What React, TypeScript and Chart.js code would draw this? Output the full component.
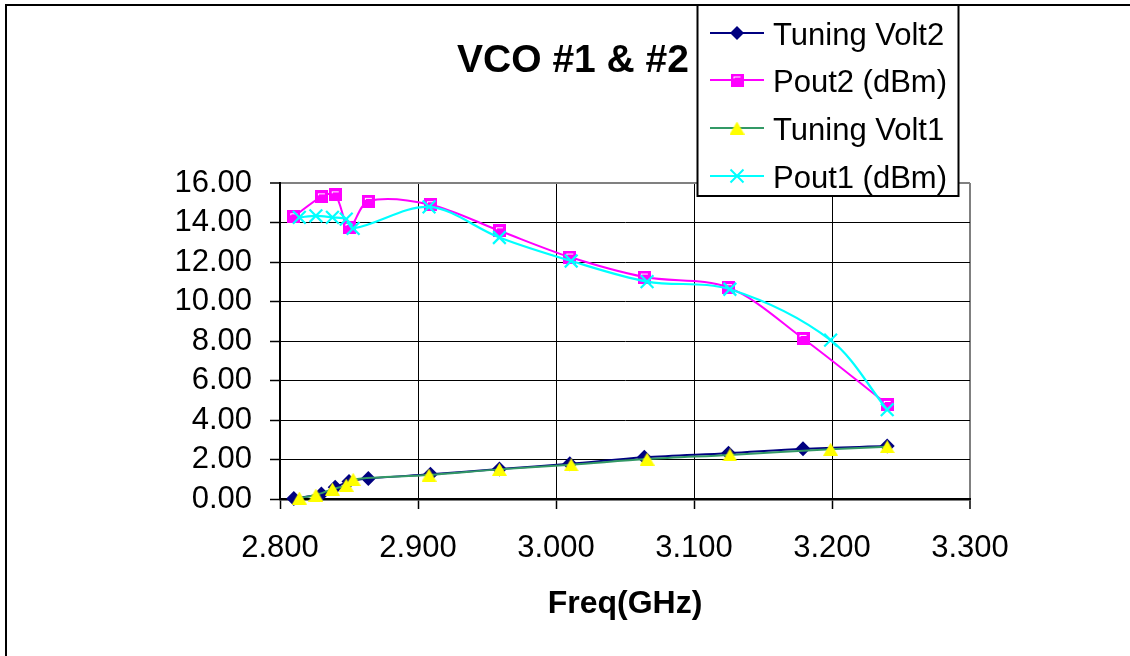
import React, { useEffect, useRef } from 'react';
import { Chart, registerables } from 'chart.js';

Chart.register(...registerables);

// ---------- data ----------
const chartTitle = 'VCO #1 & #2';
const xAxisTitle = 'Freq(GHz)';
const seriesLabels = ['Tuning Volt2', 'Pout2 (dBm)', 'Tuning Volt1', 'Pout1 (dBm)'];

const freq2 = [2.810, 2.830, 2.840, 2.850, 2.864, 2.909, 2.959, 3.010, 3.064, 3.125, 3.179, 3.240];
const tuningVolt2 = [0.03, 0.25, 0.59, 0.88, 1.04, 1.25, 1.52, 1.78, 2.11, 2.32, 2.54, 2.68];
const pout2 = [14.29, 15.30, 15.40, 13.75, 15.07, 14.90, 13.58, 12.25, 11.24, 10.70, 8.13, 4.79];

const freq1 = [2.814, 2.826, 2.838, 2.848, 2.853, 2.908, 2.959, 3.011, 3.066, 3.126, 3.199, 3.240];
const tuningVolt1 = [0.05, 0.20, 0.50, 0.70, 1.00, 1.21, 1.50, 1.73, 2.02, 2.23, 2.52, 2.65];
const pout1 = [14.26, 14.34, 14.26, 14.17, 13.70, 14.79, 13.24, 12.05, 11.01, 10.62, 8.04, 4.52];

const xTickValues = [2.8, 2.9, 3.0, 3.1, 3.2, 3.3];
const yTickValues = [0, 2, 4, 6, 8, 10, 12, 14, 16];

// ---------- styles ----------
const FONT = '"Liberation Sans", Arial, Helvetica, sans-serif';
const NAVY = '#000080';
const MAGENTA = '#FF00FF';
const SEAGREEN = '#339966';
const YELLOW = '#FFFF00';
const CYAN = '#00FFFF';
const GREY = '#808080';

function makeSquare(): HTMLCanvasElement {
  const c = document.createElement('canvas');
  c.width = 13;
  c.height = 13;
  const g = c.getContext('2d')!;
  g.fillStyle = MAGENTA;
  g.fillRect(0, 0, 13, 13);
  g.fillStyle = '#FFFFFF';
  g.fillRect(3, 3, 7, 1);
  g.fillRect(3, 3, 1, 2);
  return c;
}

function makeTriangle(): HTMLCanvasElement {
  const c = document.createElement('canvas');
  c.width = 15;
  c.height = 13;
  const g = c.getContext('2d')!;
  g.fillStyle = YELLOW;
  g.beginPath();
  g.moveTo(7.5, 0);
  g.lineTo(15, 13);
  g.lineTo(0, 13);
  g.closePath();
  g.fill();
  return c;
}

export default function App() {
  const ref = useRef<HTMLCanvasElement>(null);

  useEffect(() => {
    if (!ref.current) return;
    const square = makeSquare();
    const tri = makeTriangle();
    const toPts = (xs: number[], ys: number[]) => xs.map((x, i) => ({ x, y: ys[i] }));

    const decor = {
      id: 'decor',
      beforeDraw(chart: any) {
        const ctx = chart.ctx as CanvasRenderingContext2D;
        ctx.save();
        ctx.fillStyle = '#FFFFFF';
        ctx.fillRect(0, 0, chart.width, chart.height);
        ctx.strokeStyle = '#000';
        ctx.lineWidth = 2;
        ctx.strokeRect(6, 5, 1400, 900);
        ctx.restore();
      },
      afterDraw(chart: any) {
        const ctx = chart.ctx as CanvasRenderingContext2D;
        const area = chart.chartArea;
        ctx.save();
        // title
        ctx.fillStyle = '#000';
        ctx.textAlign = 'center';
        ctx.textBaseline = 'alphabetic';
        ctx.font = `bold 39px ${FONT}`;
        ctx.fillText(chartTitle, 573, 72);
        // x axis title
        ctx.font = `bold 32px ${FONT}`;
        ctx.fillText(xAxisTitle, (area.left + area.right) / 2, 613);

        // legend
        const lx = 697, ly = 5, lw = 261, lh = 191;
        ctx.fillStyle = '#FFFFFF';
        ctx.fillRect(lx, ly, lw, lh);
        ctx.strokeStyle = '#000';
        ctx.lineWidth = 2;
        ctx.strokeRect(lx + 0.5, ly, lw, lh);
        const rows = [33, 80, 128, 176];
        const colors = [NAVY, MAGENTA, SEAGREEN, CYAN];
        rows.forEach((y, i) => {
          ctx.strokeStyle = colors[i];
          ctx.lineWidth = 2;
          ctx.beginPath();
          ctx.moveTo(710, y);
          ctx.lineTo(764, y);
          ctx.stroke();
          const mx = 737;
          if (i === 0) {
            ctx.fillStyle = NAVY;
            ctx.beginPath();
            ctx.moveTo(mx, y - 7);
            ctx.lineTo(mx + 7, y);
            ctx.lineTo(mx, y + 7);
            ctx.lineTo(mx - 7, y);
            ctx.closePath();
            ctx.fill();
          } else if (i === 1) {
            ctx.drawImage(square, mx - 6.5, y - 6.5);
          } else if (i === 2) {
            ctx.drawImage(tri, mx - 7.5, y - 6.5);
          } else {
            ctx.strokeStyle = CYAN;
            ctx.lineWidth = 2;
            ctx.beginPath();
            ctx.moveTo(mx - 6.5, y - 6.5);
            ctx.lineTo(mx + 6.5, y + 6.5);
            ctx.moveTo(mx + 6.5, y - 6.5);
            ctx.lineTo(mx - 6.5, y + 6.5);
            ctx.stroke();
          }
          ctx.fillStyle = '#000';
          ctx.textAlign = 'left';
          ctx.textBaseline = 'alphabetic';
          ctx.font = `31px ${FONT}`;
          ctx.fillText(seriesLabels[i], 773, y + 11.5);
        });
        ctx.restore();
      },
    };

    const chart = new Chart(ref.current, {
      type: 'line',
      data: {
        datasets: [
          {
            label: seriesLabels[0],
            data: toPts(freq2, tuningVolt2),
            borderColor: NAVY,
            backgroundColor: NAVY,
            borderWidth: 2,
            pointStyle: 'rectRot',
            pointRadius: 7.5,
            pointBorderWidth: 0,
            pointBackgroundColor: NAVY,
            tension: 0.33,
            clip: false,
            order: 3,
          },
          {
            label: seriesLabels[1],
            data: toPts(freq2, pout2),
            borderColor: MAGENTA,
            backgroundColor: MAGENTA,
            borderWidth: 2,
            pointStyle: square,
            pointRadius: 6.5,
            tension: 0.33,
            clip: false,
            order: 2,
          },
          {
            label: seriesLabels[2],
            data: toPts(freq1, tuningVolt1),
            borderColor: SEAGREEN,
            backgroundColor: YELLOW,
            borderWidth: 2,
            pointStyle: tri,
            pointRadius: 7,
            tension: 0.33,
            clip: false,
            order: 1,
          },
          {
            label: seriesLabels[3],
            data: toPts(freq1, pout1),
            borderColor: CYAN,
            backgroundColor: CYAN,
            borderWidth: 2.2,
            pointStyle: 'crossRot',
            pointRadius: 9,
            pointBorderWidth: 2.2,
            pointBorderColor: CYAN,
            tension: 0.33,
            clip: false,
            order: 0,
          },
        ],
      } as any,
      options: {
        responsive: false,
        animation: false,
        devicePixelRatio: 1,
        events: [],
        layout: { padding: { left: 0, top: 183, right: 160, bottom: 0 } },
        plugins: {
          legend: { display: false },
          title: { display: false },
          tooltip: { enabled: false },
        },
        scales: {
          x: {
            type: 'linear',
            min: 2.8,
            max: 3.3,
            afterFit: (s: any) => {
              s.height = 157;
            },
            afterBuildTicks: (s: any) => {
              s.ticks = xTickValues.map((v) => ({ value: v }));
            },
            ticks: {
              callback: (v: any) => Number(v).toFixed(3),
              font: { family: FONT, size: 31 },
              color: '#000',
              padding: 21,
              maxRotation: 0,
              autoSkip: false,
            },
            grid: {
              color: (c: any) => (c.tick && c.tick.value > 3.29 ? GREY : '#000'),
              lineWidth: (c: any) => (c.tick && c.tick.value > 3.29 ? 2 : 1),
              tickColor: '#000',
              tickLength: 10,
              tickWidth: 1.5,
            },
            border: { color: '#000', width: 2.5 },
          },
          y: {
            type: 'linear',
            min: 0,
            max: 16,
            afterFit: (s: any) => {
              s.width = 280;
            },
            afterBuildTicks: (s: any) => {
              s.ticks = yTickValues.map((v) => ({ value: v }));
            },
            ticks: {
              callback: (v: any) => Number(v).toFixed(2),
              font: { family: FONT, size: 31 },
              color: '#000',
              padding: 18,
              autoSkip: false,
            },
            grid: {
              color: (c: any) => (c.tick && c.tick.value > 15.9 ? GREY : '#000'),
              lineWidth: (c: any) => (c.tick && c.tick.value > 15.9 ? 2 : 1),
              tickColor: '#000',
              tickLength: 10,
              tickWidth: 1.5,
            },
            border: { color: '#000', width: 2 },
          },
        },
      } as any,
      plugins: [decor],
    });

    return () => chart.destroy();
  }, []);

  return (
    <div style={{ position: 'fixed', left: 0, top: 0, width: 1130, height: 656, background: '#fff' }}>
      <canvas ref={ref} width={1130} height={656} style={{ display: 'block', width: 1130, height: 656 }} />
    </div>
  );
}
